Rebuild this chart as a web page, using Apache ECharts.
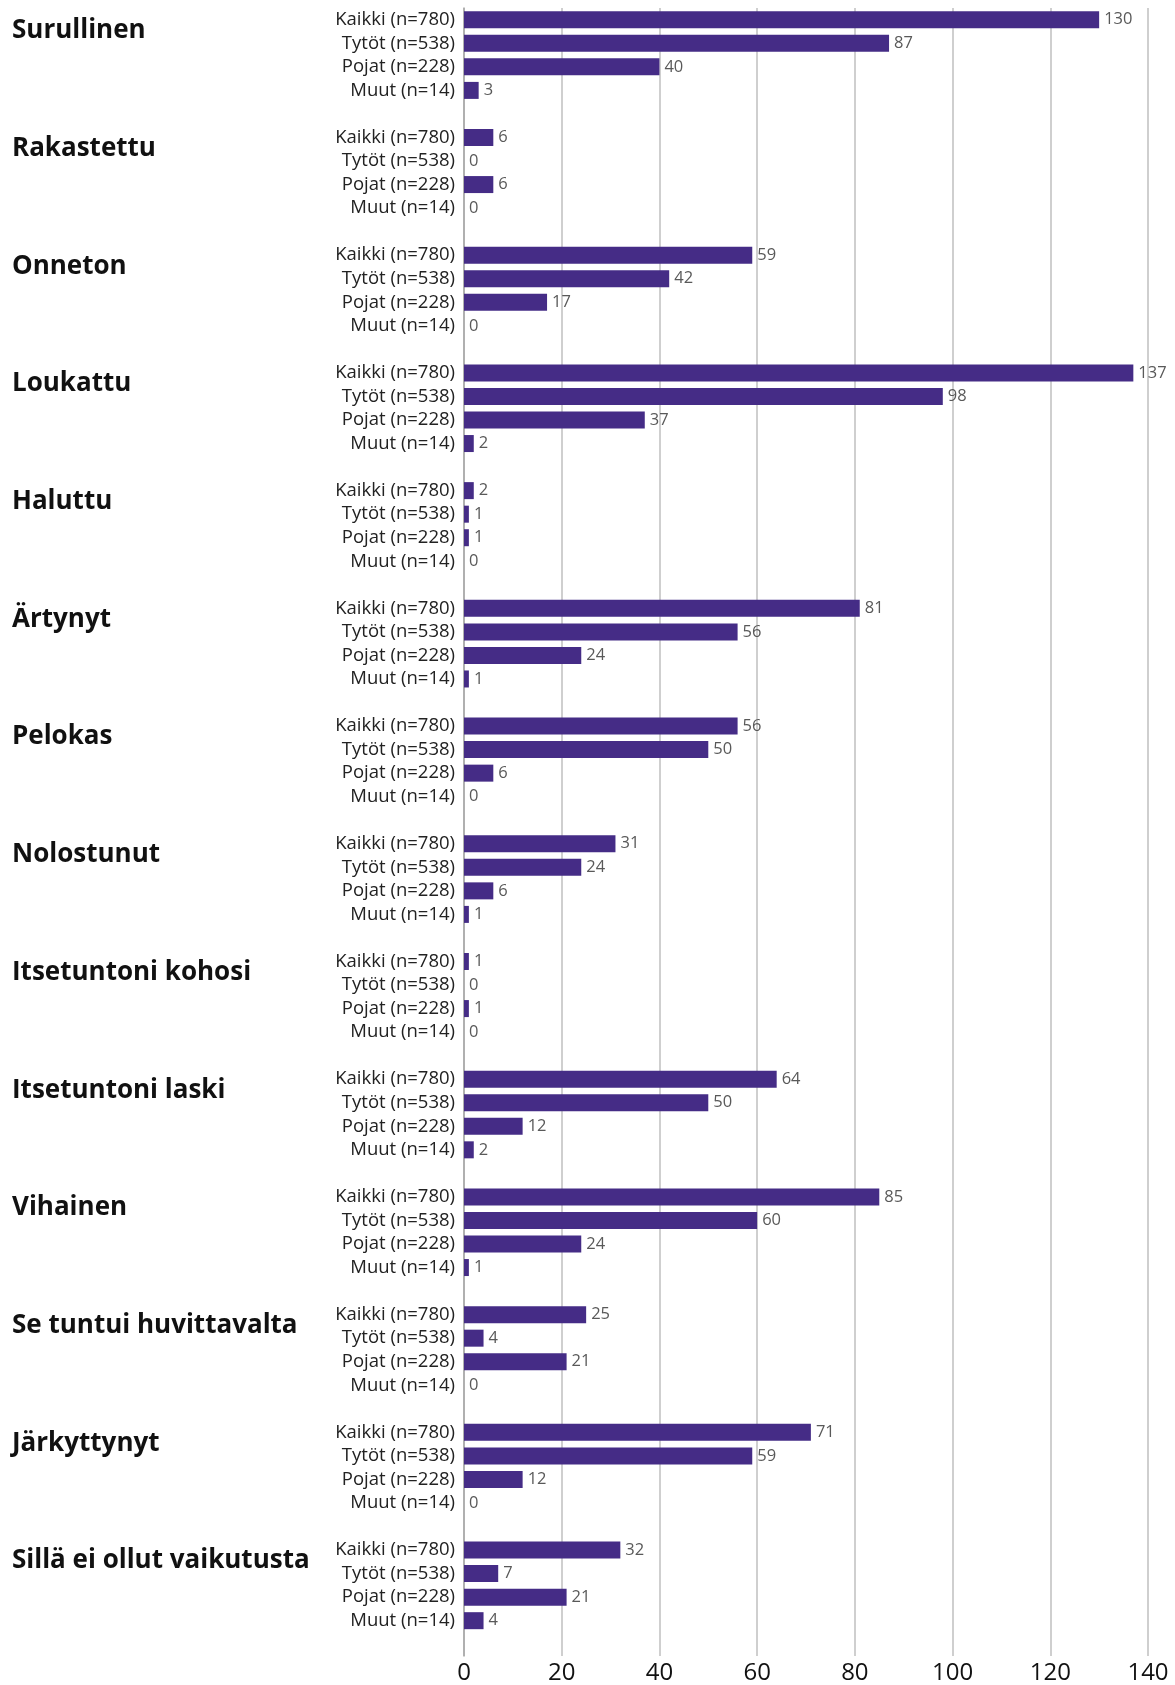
<!DOCTYPE html>
<html>
<head>
<meta charset="utf-8">
<script src="https://cdn.jsdelivr.net/npm/echarts@6/dist/echarts.min.js"></script>
<style>
html,body{margin:0;padding:0;background:#fff;}
#chart{width:1175px;height:1685px;}
</style>
</head>
<body>
<div id="chart"></div>
<script>
const groups = ["Surullinen","Rakastettu","Onneton","Loukattu","Haluttu","Ärtynyt","Pelokas","Nolostunut","Itsetuntoni kohosi","Itsetuntoni laski","Vihainen","Se tuntui huvittavalta","Järkyttynyt","Sillä ei ollut vaikutusta"];
const subgroups = ["Kaikki (n=780)","Tytöt (n=538)","Pojat (n=228)","Muut (n=14)"];
const kaikki = [130,6,59,137,2,81,56,31,1,64,85,25,71,32];
const tytot  = [87,0,42,98,1,56,50,24,0,50,60,4,59,7];
const pojat  = [40,6,17,37,1,24,6,6,1,12,24,21,12,21];
const muut   = [3,0,0,2,0,1,0,1,0,2,1,0,0,4];
const xTicks = [0,20,40,60,80,100,120,140];

const rowLabels = [], groupLabels = [], values = [];
const seriesBySub = [kaikki, tytot, pojat, muut];
groups.forEach((g, gi) => {
  subgroups.forEach((s, si) => {
    rowLabels.push(s);
    groupLabels.push(si === 0 ? g : '');
    values.push(seriesBySub[si][gi]);
  });
  rowLabels.push('');
  groupLabels.push('');
  values.push(null);
});

const chart = echarts.init(document.getElementById('chart'));
chart.setOption({
  animation: false,
  grid: { left: 464, right: 27, top: 8, bottom: 24, containLabel: false },
  xAxis: {
    type: 'value',
    min: xTicks[0], max: xTicks[xTicks.length - 1], interval: 20,
    axisLine: { show: false },
    axisTick: { show: false },
    splitLine: { lineStyle: { color: '#BFBFBF', width: 1.5 } },
    axisLabel: { fontFamily: 'Open Sans', fontSize: 24, color: '#111', margin: 5 }
  },
  yAxis: [
    {
      type: 'category',
      inverse: true,
      data: rowLabels,
      axisLine: { lineStyle: { color: '#A6A6A6', width: 1.5 } },
      axisTick: { show: false },
      axisLabel: { fontFamily: 'Open Sans', fontSize: 18.5, color: '#222', margin: 9, interval: 0 }
    },
    {
      type: 'category',
      inverse: true,
      position: 'left',
      offset: 452,
      data: groupLabels,
      axisLine: { show: false },
      axisTick: { show: false },
      axisLabel: {
        fontFamily: 'Open Sans', fontWeight: 'bold', fontSize: 26, color: '#111',
        margin: 0, align: 'left', verticalAlign: 'top', lineHeight: 22, interval: 0
      }
    }
  ],
  series: [{
    type: 'bar',
    yAxisIndex: 0,
    data: values,
    barWidth: 17,
    itemStyle: { color: '#452C86' },
    label: {
      show: true, position: 'right', distance: 5,
      fontFamily: 'Open Sans', fontSize: 16.5, color: '#595959'
    }
  }]
});
</script>
</body>
</html>
